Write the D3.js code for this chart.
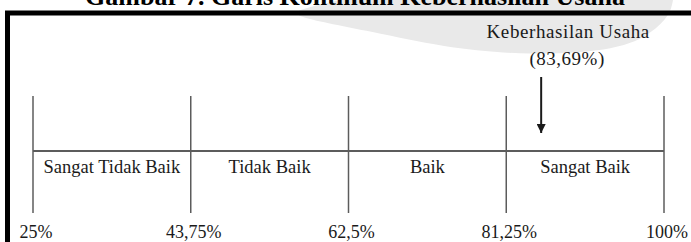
<!DOCTYPE html>
<html lang="id">

<head>
    <meta charset="UTF-8">
    <title>Garis Kontinum Keberhasilan Usaha</title>
    <script src="https://d3js.org/d3.v7.min.js"></script>
    <style>
        body {
            margin: 0;
            background: white;
        }

        text {
            font-family: "Liberation Serif", "Times New Roman", serif;
            fill: #1a1a1a;
        }

        .title {
            font-size: 26px;
            font-weight: bold;
            text-anchor: middle;
            fill: black;
        }

        .cat {
            font-size: 18.5px;
            text-anchor: middle;
        }

        .tick-label {
            font-size: 18px;
            text-anchor: middle;
        }

        .note {
            font-size: 19px;
            text-anchor: middle;
        }
    </style>
</head>

<body>
    <svg width="691" height="242"></svg>

    <script>
        // batas interval skor (%)
        const bounds = [25, 43.75, 62.5, 81.25, 100];
        const tickLabels = ["25%", "43,75%", "62,5%", "81,25%", "100%"];
        const categories = ["Sangat Tidak Baik", "Tidak Baik", "Baik", "Sangat Baik"];

        const score = 83.69;
        const scoreLabel = "(83,69%)";
        // arrow is drawn where the source places it, a little right of 83.69
        const arrowAt = 85.4;

        const width = 691, height = 242;
        const svg = d3.select("svg");

        const x = d3.scaleLinear().domain([25, 100]).range([33, 664]);
        const lineY = 151, topY = 96, bottomY = 213;

        // faint watermark behind the title
        const wm = [[340, 0], [300, 9], [288, 16], [375, 32], [440, 47], [530, 56], [620, 50], [652, 33], [670, 15], [673, 0]];
        svg.append("path")
            .attr("d", d3.line().curve(d3.curveBasis)(wm))
            .attr("fill", "#e9e9e9");

        svg.append("text").attr("class", "title")
            .attr("x", 355).attr("y", 5)
            .text("Gambar 7. Garis Kontinum Keberhasilan Usaha");

        // frame (top + left edges visible)
        svg.append("path")
            .attr("d", `M7.5,${height} V13 H${width}`)
            .attr("fill", "none")
            .attr("stroke", "black")
            .attr("stroke-width", 5);

        // continuum line
        svg.append("line")
            .attr("x1", x(bounds[0])).attr("x2", x(bounds[bounds.length - 1]))
            .attr("y1", lineY).attr("y2", lineY)
            .attr("stroke", "#5c5c5c").attr("stroke-width", 2);

        svg.selectAll(".bound")
            .data(bounds)
            .enter().append("line")
            .attr("class", "bound")
            .attr("x1", d => x(d)).attr("x2", d => x(d))
            .attr("y1", topY).attr("y2", bottomY)
            .attr("stroke", "#5c5c5c").attr("stroke-width", 1.5);

        svg.selectAll(".cat")
            .data(categories)
            .enter().append("text")
            .attr("class", "cat")
            .attr("x", (d, i) => (x(bounds[i]) + x(bounds[i + 1])) / 2)
            .attr("y", 173)
            .text(d => d);

        svg.selectAll(".tick-label")
            .data(bounds)
            .enter().append("text")
            .attr("class", "tick-label")
            .attr("x", d => x(d) + 3)
            .attr("y", 238)
            .text((d, i) => tickLabels[i]);

        // marker for the result
        svg.append("defs").append("marker")
            .attr("id", "arrowhead")
            .attr("viewBox", "0 -5 10 10")
            .attr("refX", 10)
            .attr("refY", 0)
            .attr("markerWidth", 4.5)
            .attr("markerHeight", 4.5)
            .attr("orient", "auto")
            .append("path")
            .attr("d", "M0,-5L10,0L0,5Z")
            .attr("fill", "#1a1a1a");

        const ax = x(arrowAt);
        svg.append("line")
            .attr("x1", ax).attr("x2", ax)
            .attr("y1", 77).attr("y2", 133)
            .attr("stroke", "#1a1a1a").attr("stroke-width", 2)
            .attr("marker-end", "url(#arrowhead)");

        svg.append("text").attr("class", "note")
            .attr("x", ax + 27).attr("y", 38)
            .style("letter-spacing", "0.6px")
            .text("Keberhasilan Usaha");

        svg.append("text").attr("class", "note")
            .attr("x", ax + 26).attr("y", 65)
            .style("letter-spacing", "0.5px")
            .text(scoreLabel);
    </script>
</body>

</html>
